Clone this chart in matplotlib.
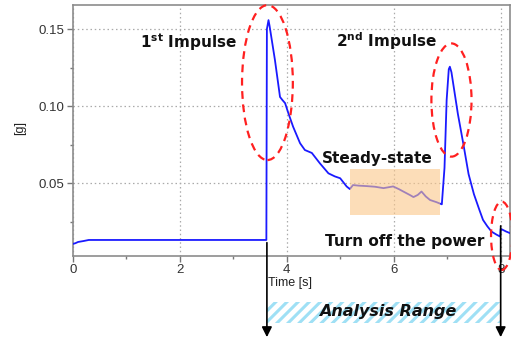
import matplotlib
matplotlib.use("Agg")
import matplotlib.pyplot as plt
from matplotlib.patches import Ellipse, Rectangle
import matplotlib.transforms as mtransforms

plt.rcParams['font.family'] = ['Liberation Sans', 'DejaVu Sans']
plt.rcParams['hatch.linewidth'] = 2.2

# ---- data ----
time_s = [0.0, 0.05, 0.1, 0.2, 0.3, 1.0, 2.0, 3.0, 3.62, 3.63, 3.66, 3.68, 3.78, 3.875,
          3.92, 3.97, 4.03, 4.12, 4.25, 4.34, 4.47, 4.62, 4.78, 4.9, 5.0, 5.12,
          5.18, 5.24, 5.35, 5.5, 5.65, 5.81, 5.99, 6.1, 6.18, 6.3, 6.37, 6.45,
          6.52, 6.6, 6.68, 6.8, 6.9, 6.95, 6.99, 7.03, 7.05, 7.08, 7.2, 7.3,
          7.4, 7.5, 7.6, 7.67, 7.75, 7.83, 7.92, 7.99, 8.0, 8.02, 8.1, 8.17]
accel_g = [0.0107, 0.0112, 0.0120, 0.0126, 0.0133, 0.0133, 0.0133, 0.0133, 0.0133, 0.150,
           0.1558, 0.152, 0.130, 0.106,
           0.104, 0.102, 0.0956, 0.0867, 0.076, 0.0716, 0.0697, 0.063, 0.0565, 0.0545, 0.0533, 0.048,
           0.0463, 0.0489, 0.0485, 0.0482, 0.0478, 0.0469, 0.048, 0.0462, 0.0447, 0.0425, 0.0411, 0.0425,
           0.0447, 0.0415, 0.0392, 0.0378, 0.0364, 0.060, 0.104, 0.124, 0.1256, 0.122, 0.095, 0.076,
           0.056, 0.043, 0.033, 0.0263, 0.0222, 0.0187, 0.0168, 0.0155, 0.0205, 0.0202, 0.0188, 0.0178]

x_ticks = [0, 2, 4, 6, 8]
y_ticks = [0.05, 0.10, 0.15]
y_tick_labels = ["0.05", "0.10", "0.15"]

impulse1_t = 3.63
power_off_t = 8.0
steady_range = (5.19, 6.87)
steady_level = (0.0297, 0.0595)

# ---- figure ----
fig = plt.figure(figsize=(5.11, 3.47), dpi=100)
ax = fig.add_axes([0.1423, 0.2631, 0.998 - 0.1423, 0.9856 - 0.2631])

ax.plot(time_s, accel_g, color='#1a1aff', lw=1.3, zorder=3)

ax.set_xlim(0, 8.174)
ax.set_ylim(0.0031, 0.1656)
ax.set_xticks(x_ticks)
ax.set_xticklabels([str(v) for v in x_ticks])
ax.set_xticks([1, 3, 5, 7], minor=True)
ax.set_yticks(y_ticks)
ax.set_yticklabels(y_tick_labels)
ax.set_yticks([0.025, 0.075, 0.125], minor=True)
ax.tick_params(axis='both', which='major', direction='out', length=4, width=1,
               color='#777777', labelsize=9.5, labelcolor='#333333', pad=2)
ax.tick_params(axis='both', which='minor', direction='out', length=2, width=1, color='#777777')
ax.grid(True, which='major', linestyle=(0, (1.2, 2.2)), color='#aaaaaa', lw=0.9, zorder=0)
for s in ax.spines.values():
    s.set_color('#8c8c8c')
    s.set_linewidth(1.2)

# steady state box
ax.add_patch(Rectangle((steady_range[0], steady_level[0]), steady_range[1] - steady_range[0],
                       steady_level[1] - steady_level[0], facecolor='#fbc78a', alpha=0.6,
                       edgecolor='none', zorder=4))

# ellipses
ell_kw = dict(fill=False, edgecolor='#ff2020', lw=1.6, linestyle=(0, (3.5, 2.5)), zorder=5, clip_on=False)
ax.add_patch(Ellipse((3.64, 0.1153), 0.95, 0.1004, **ell_kw))
ax.add_patch(Ellipse((7.08, 0.104), 0.75, 0.0734, **ell_kw))
ax.add_patch(Ellipse((8.02, 0.016), 0.40, 0.0443, **ell_kw))

# annotations
tkw = dict(fontsize=11, fontweight='bold', color='#111111', ha='center', va='center', zorder=6,
           family=['DejaVu Sans'])
ax.text(2.16, 0.1416, "1$^{\\mathbf{st}}$ Impulse", **tkw)
ax.text(5.86, 0.1422, "2$^{\\mathbf{nd}}$ Impulse", **tkw)
ax.text(5.69, 0.0664, "Steady-state", **tkw)
ax.text(6.20, 0.0126, "Turn off the power", **tkw)

trans = mtransforms.blended_transform_factory(ax.transData, ax.transAxes)
ax.text(4.06, -0.109, "Time [s]", transform=trans, fontsize=9, color='#222222',
        ha='center', va='center')
ax.text(-0.12, 0.509, "[g]", transform=ax.transAxes, fontsize=9, color='#222222',
        rotation=90, ha='center', va='center')

# analysis range hatched box
ax.add_patch(Rectangle((impulse1_t, -0.267), power_off_t - impulse1_t, 0.084,
                       transform=trans, facecolor='white', edgecolor='#9fe0f5',
                       hatch='///', lw=0, clip_on=False, zorder=2))
ax.text((impulse1_t + power_off_t) / 2 + 0.08, -0.224, "Analysis Range", transform=trans,
        fontsize=11.5, fontstyle='italic', fontweight='bold', family=['DejaVu Sans'],
        color='#111111', ha='center', va='center', zorder=6)

# arrows
akw = dict(arrowstyle='-|>,head_width=0.3,head_length=0.6', color='black', lw=1.2)
ax.annotate("", xy=(impulse1_t, -0.336), xycoords=trans, xytext=(impulse1_t, 0.063),
            textcoords=trans, arrowprops=akw, annotation_clip=False, zorder=6)
ax.annotate("", xy=(power_off_t, -0.336), xycoords=trans, xytext=(power_off_t, 0.13),
            textcoords=trans, arrowprops=akw, annotation_clip=False, zorder=6)

fig.savefig("out.png", dpi=100)
